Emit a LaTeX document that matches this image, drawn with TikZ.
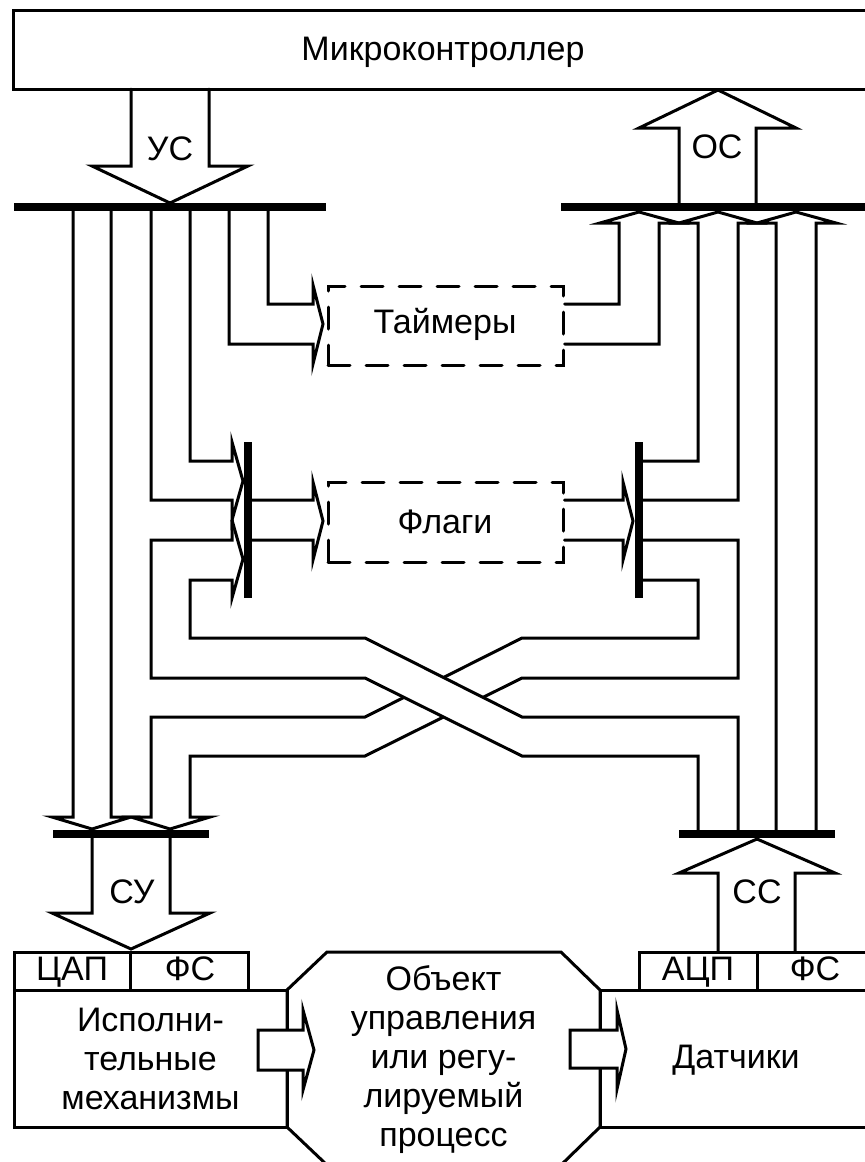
\documentclass[tikz,border=0pt]{standalone}
\usepackage{fontspec}
\setmainfont{Liberation Sans}
\begin{document}
\begin{tikzpicture}[x=0.5pt, y=-0.5pt, line width=1.5pt, line cap=round, line join=miter,
    every node/.style={font=\fontsize{17}{19.5}\selectfont, inner sep=0pt},
    bus/.style={line width=3.8pt, line cap=butt},
    dbox/.style={draw, dash pattern=on 11pt off 8pt, minimum width=117.5pt, minimum height=39.5pt},
    cell/.style={draw, minimum height=19pt},
    hollow/.style={draw, fill=white}]
\useasboundingbox (0,0) rectangle (864,1162);

% microcontroller
\draw (880,10) -- (13,10) -- (13,89) -- (880,89);
\node (mc) [anchor=base] at (443,60) {Микроконтроллер};

% control bus
\draw (131,89) -- (131,166) -- (92,166) -- (170,203) -- (248,166) -- (209,166) -- (209,89);
\node (us) [anchor=base] at (170,160) {УС};

% status bus
\draw (679,207) -- (679,128) -- (639,128) -- (718,90) -- (796,128) -- (756,128) -- (756,207);
\node (os) [anchor=base] at (717,158) {ОС};

% timers and flags
\node (tmr) [dbox] at (445.5,325.5) {};
\node [anchor=base] at (445,333) {Таймеры};
\node (flg) [dbox, minimum height=40pt] at (445.5,522) {};
\node [anchor=base] at (445,533) {Флаги};

\draw (268,207) |- (313,304) -- (313,285) -- (323,324) -- (313,364) -- (313,344) -| (229,207);
\draw (tmr.east |- 0,304) -| (619,223) -- (600,223) -- (639,212) -- (679,223) -- (659,223) |- (tmr.east |- 0,344);

\draw (190,207) |- (232,461) -- (232,442) -- (243,481) -- (232,520) -- (232,500) -| (151,207);
\draw (248,500) -- (313,500) -- (313,482) -- (323,521) -- (313,560) -- (313,540) -- (248,540);
\draw (flg.east |- 0,500) -- (623,500) -- (623,482) -- (633,521) -- (623,560) -- (623,540) -- (flg.east |- 0,540);
\draw (639,461) -| (698,223) -- (679,223) -- (718,212) -- (757,223) -- (738,223) |- (639,500);

% crossing
\draw (639,580) -| (698,638) -- (522,638) -- (365,717) -| (151,817) -- (131,817) -- (170,829)
    -- (210,817) -| (190,756) -- (365,756) -- (522,678) -| (738,540) -- (639,540);
\fill[white] (365,638) -- (522,717) -- (522,756) -- (365,678) -- cycle;
\draw (232,520) -- (243,559) -- (232,598) -- (232,580) -| (190,638) -- (365,638) -- (522,717) -| (738,834);
\draw (232,520) -- (232,540) -| (151,678) -- (365,678) -- (522,756) -| (698,834);

\draw (73,207) |- (52,817) -- (92,829) -- (131,817) -| (111,207);
\draw (776,834) -- (776,223) -- (757,223) -- (796,212) -- (836,223) -- (816,223) -- (816,834);

% buses
\draw[bus] (14,207) -- (326,207);
\draw[bus] (561,207) -- (880,207);
\draw[bus] (248,442) -- (248,598);
\draw[bus] (639,442) -- (639,598);
\draw[bus] (53,834) -- (209,834);
\draw[bus] (679,834) -- (835,834);

% actuators
\draw (14,952) rectangle (130,990) (130,952) rectangle (248,990);
\node (dac) [anchor=base] at (72,980) {ЦАП};
\node (fsl) [anchor=base] at (190,980) {ФС};
\node (act) [draw, minimum width=136.5pt, minimum height=68.5pt, align=center] at (150.5,1058.5)
    {Исполни-\\тельные\\механизмы};
\draw (92,838) -- (92,913) -- (52,913) -- (131,949) -- (210,913) -- (170,913) -- (170,838);
\node (su) [anchor=base] at (132,903) {СУ};

% object
\draw (287,990) -- (327,952) -- (561,952) -- (600,990) -- (600,1127) -- (561,1165) -- (327,1165) -- (287,1127) -- cycle;
\node (obj) [align=center] at (443.5,1060) {Объект\\управления\\или регу-\\лируемый\\процесс};

% sensors
\draw (639,952) rectangle (757,990) (757,952) rectangle (875,990);
\node (adc) [anchor=base] at (698,980) {АЦП};
\node (fsr) [anchor=base] at (815,980) {ФС};
\draw (600,990) rectangle (880,1127);
\node (sen) [anchor=base] at (736,1068) {Датчики};
\draw (718,952) -- (718,873) -- (679,873) -- (757,839) -- (835,873) -- (795,873) -- (795,952);
\node (ss) [anchor=base] at (757,903) {СС};

\draw[hollow] (258,1030) -- (303,1030) -- (303,1010) -- (314,1050) -- (303,1090) -- (303,1070) -- (258,1070) -- cycle;
\draw[hollow] (570,1030) -- (617,1030) -- (617,1010) -- (626,1049) -- (617,1089) -- (617,1068) -- (570,1068) -- cycle;
\end{tikzpicture}
\end{document}
